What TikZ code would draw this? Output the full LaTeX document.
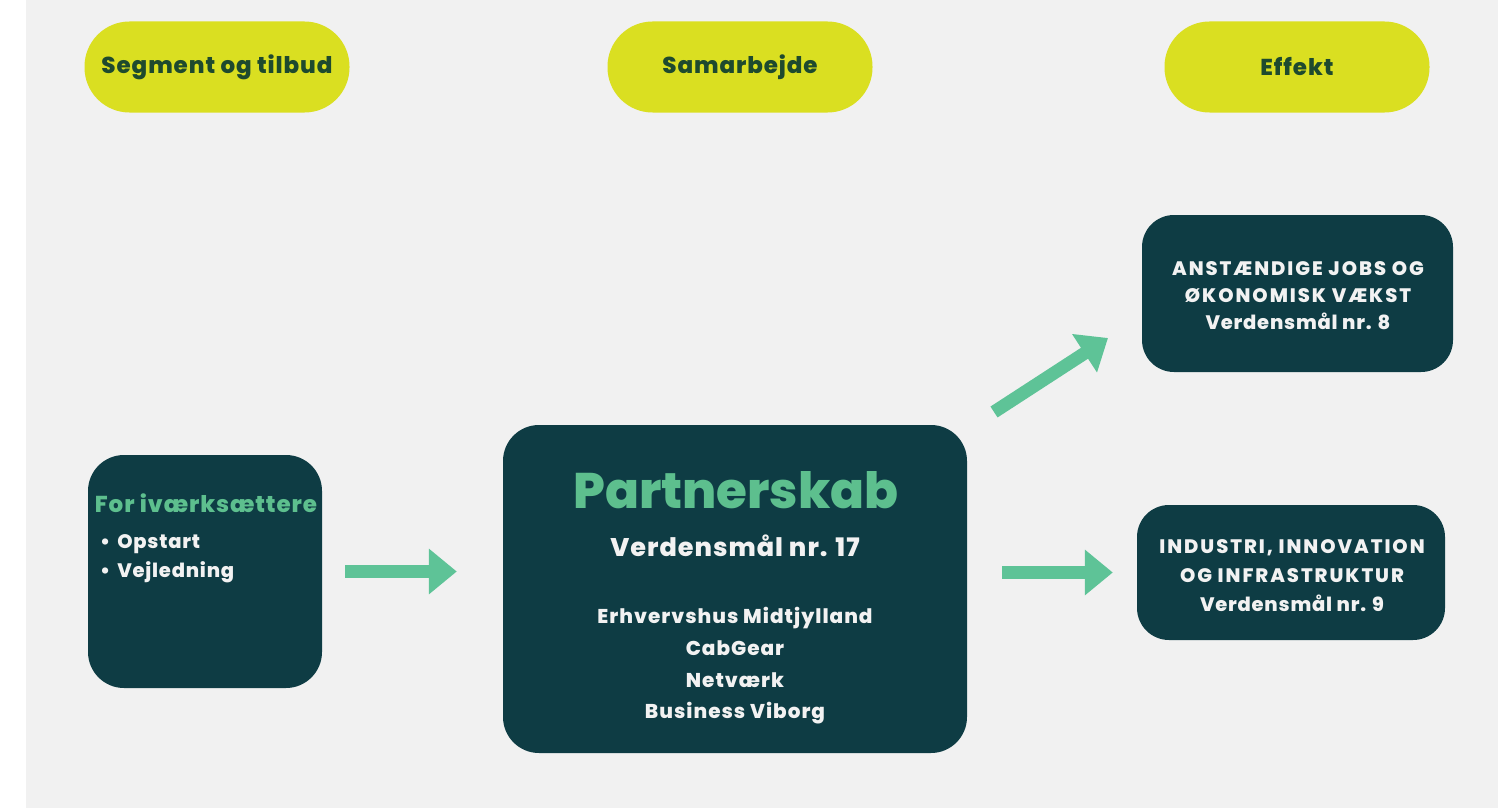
\documentclass[tikz,border=0pt]{standalone}
\usepackage{fontspec}
\setmainfont{Poppins}[BoldFont={Poppins ExtraBold}]
\usetikzlibrary{arrows.meta}
\definecolor{bgc}{HTML}{F1F1F1}
\definecolor{darkc}{HTML}{0E3C44}
\definecolor{greenc}{HTML}{5DBF8E}
\definecolor{arrc}{HTML}{5EC397}
\definecolor{yelc}{HTML}{DADF21}
\definecolor{pilltxt}{HTML}{1E4A2E}
\definecolor{lighttxt}{HTML}{F2F2F2}
\newcommand\myls[1]{\addfontfeatures{LetterSpace=#1}}
\tikzset{
  pill/.style={fill=yelc, rounded corners=45pt, minimum width=265pt, minimum height=91pt, inner sep=0pt,
    text=pilltxt, font=\fontsize{23}{25}\selectfont\bfseries\myls{4}},
  darkbox/.style={fill=darkc, rounded corners=32pt, inner sep=0pt, text=lighttxt, align=center},
  boxtxt/.style={text=lighttxt, inner sep=0pt, align=center},
  arr/.style={draw=arrc, line width=13pt, -{Triangle[length=28pt,width=44pt]}},
}
\begin{document}
\begin{tikzpicture}[x=1pt,y=-1pt]
\fill[white] (0,0) rectangle (1510,808);
\fill[bgc] (26,0) rectangle (1498,808);
\useasboundingbox (0,0) rectangle (1510,808);

\node[pill] (p1) at (217,67) {Segment og tilbud};
\node[pill] (p2) at (740,67) {Samarbejde};
\node[pill] (p3) at (1297,67) {Effekt};

\node[darkbox, minimum width=234pt, minimum height=233pt, rounded corners=36pt] (left) at (205,571.5) {};
\node[text=greenc, inner sep=0pt, font=\fontsize{23}{25}\selectfont\bfseries\myls{4}, anchor=base] (lefttitle) at (206,512) {For iværksættere};
\node[boxtxt, font=\fontsize{19.5}{22}\selectfont\bfseries\myls{4}, anchor=base west] (item1) at (100,548) {\textbullet\hspace{7pt}Opstart};
\node[boxtxt, font=\fontsize{19.5}{22}\selectfont\bfseries\myls{4}, anchor=base west] (item2) at (100,577) {\textbullet\hspace{7pt}Vejledning};

\node[darkbox, minimum width=464pt, minimum height=328pt, rounded corners=36pt] (part) at (735,589) {};
\node[text=greenc, inner sep=0pt, font=\fontsize{50}{54}\selectfont\bfseries, anchor=base] (parttitle) at (736,508) {Partnerskab};
\node[boxtxt, font=\fontsize{25.5}{28}\selectfont\bfseries\myls{4}, anchor=base] (partgoal) at (735,556) {Verdensmål nr. 17};
\node[boxtxt, font=\fontsize{20}{31.7}\selectfont\bfseries\myls{5}] (partlist) at (735,666)
  {Erhvervshus Midtjylland\\CabGear\\Netværk\\Business Viborg};

\node[darkbox, minimum width=311pt, minimum height=157pt] (jobs) at (1297.5,293.5) {};
\node[boxtxt, font=\fontsize{19.5}{27.2}\selectfont\bfseries] (jobstxt) at (1298,295.5)
  {{\myls{10}ANSTÆNDIGE JOBS OG}\\{\myls{10}ØKONOMISK VÆKST}\\{\myls{4}Verdensmål nr. 8}};
\node[darkbox, minimum width=308pt, minimum height=135pt] (ind) at (1291,572.5) {};
\node[boxtxt, font=\fontsize{19.5}{29}\selectfont\bfseries] (indtxt) at (1292,575.5)
  {{\myls{10}INDUSTRI, INNOVATION}\\{\myls{10}OG INFRASTRUKTUR}\\{\myls{4}Verdensmål nr. 9}};

\coordinate (a2s) at (994,412);
\coordinate (a2e) at (1108,338);
\draw[arr, shorten <=23pt, shorten >=46pt] (left.east) -- (left.east -| part.west);
\draw[arr] (a2s) -- (a2e);
\draw[arr, shorten <=35pt, shorten >=24pt] (ind.west -| part.east) -- (ind.west);
\end{tikzpicture}
\end{document}
